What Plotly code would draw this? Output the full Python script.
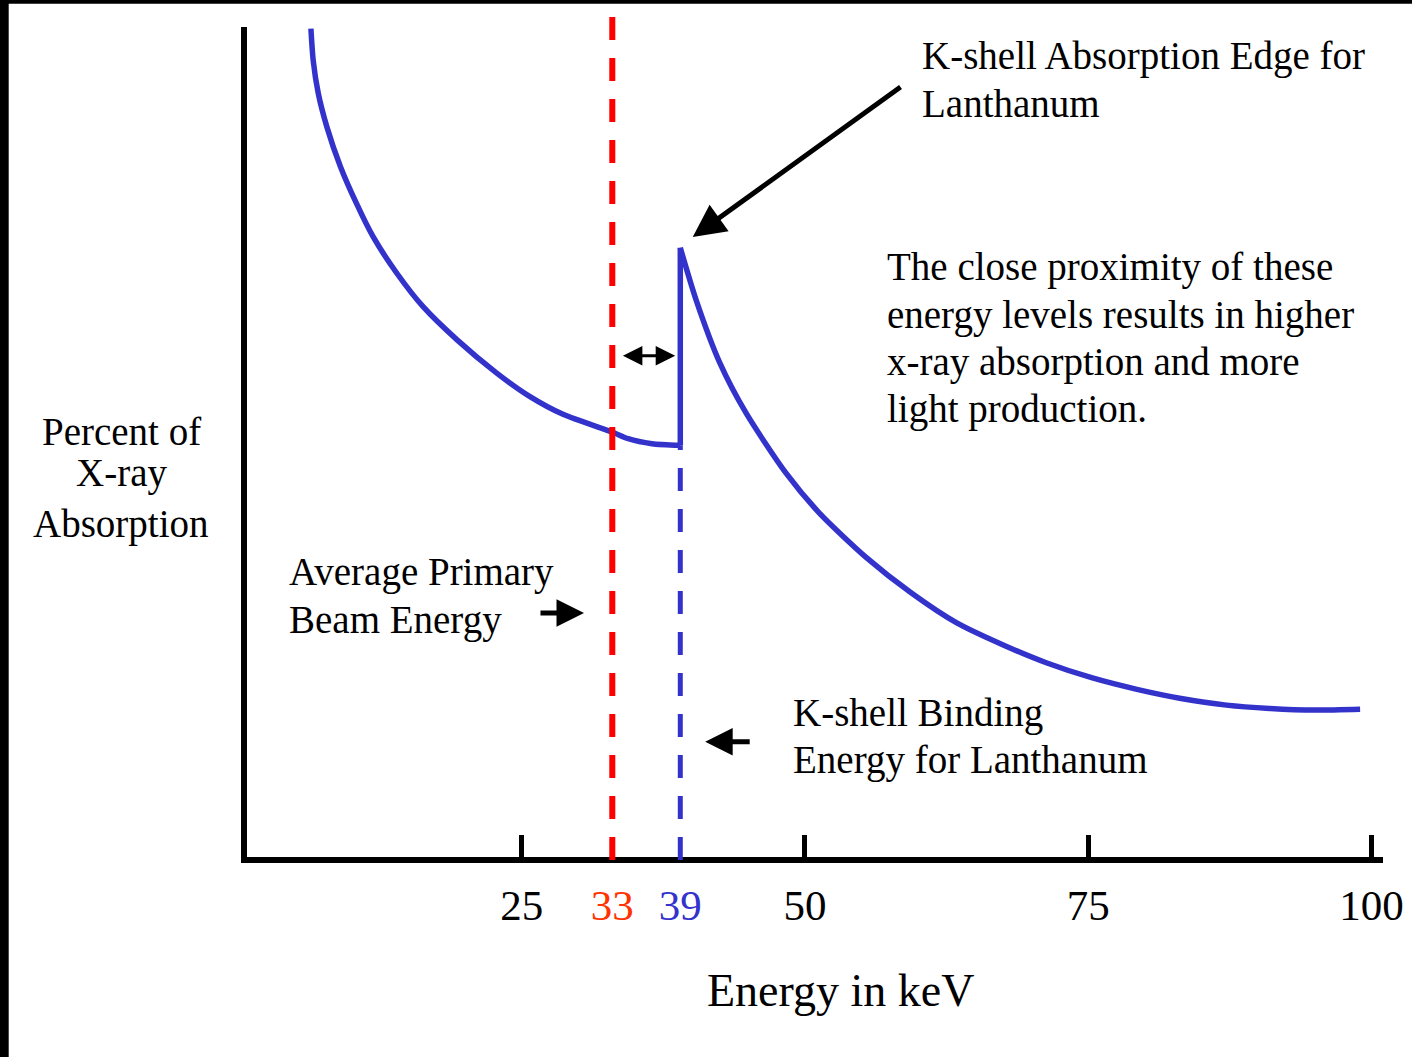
import plotly.graph_objects as go

# Absorption curve below the K-edge (keV, percent absorption)
below_edge_kev = [6.4, 6.6, 7.05, 7.8, 9.0, 10.4, 11.9, 14.0, 16.3, 19.3,
                  22.8, 25.7, 28.7, 33.0, 34.4, 36.5, 39.0]
below_edge_abs = [99.8, 96.0, 92.0, 88.0, 83.2, 78.8, 74.7, 70.3, 66.3, 62.3,
                  58.3, 55.5, 53.3, 51.2, 50.4, 49.8, 49.6]

# Absorption curve from the top of the K-edge upward
above_edge_kev = [39.0, 40.4, 42.5, 44.8, 48.3, 51.3, 55.4, 59.4, 63.4,
                  67.4, 71.3, 75.3, 79.3, 83.2, 87.2, 91.0, 95.0, 99.0]
above_edge_abs = [73.4, 67.1, 59.5, 53.5, 46.3, 41.4, 36.1, 31.8, 28.2,
                  25.6, 23.4, 21.6, 20.2, 19.1, 18.3, 17.9, 17.7, 17.8]

beam_energy = 33          # average primary beam energy, keV
k_binding = 39            # K-shell binding energy of lanthanum, keV

tick_values = [25, 33, 39, 50, 75, 100]
tick_colors = ["black", "#FF3300", "#3333CC", "black", "black", "black"]
major_ticks = [25, 50, 75, 100]

BLUE = "#3333CC"
RED = "#FF0000"
FONT = "Liberation Serif"

W, H = 1412, 1057
L, R, T, B = 247, 29, 27, 200
PW, PH = W - L - R, H - T - B


def px_x(p):
    return (p - L) / PW


def px_y(p):
    return (H - B - p) / PH


curve_style = dict(color=BLUE, width=5.5)

fig = go.Figure()
# lower branch, the jump at the edge, and the upper branch
fig.add_trace(go.Scatter(
    x=below_edge_kev, y=below_edge_abs, mode="lines",
    line=dict(shape="spline", smoothing=0.7, **curve_style),
    hoverinfo="skip", showlegend=False,
))
fig.add_trace(go.Scatter(
    x=[below_edge_kev[-1], above_edge_kev[0]],
    y=[below_edge_abs[-1], above_edge_abs[0]], mode="lines",
    line=curve_style, hoverinfo="skip", showlegend=False,
))
fig.add_trace(go.Scatter(
    x=above_edge_kev, y=above_edge_abs, mode="lines",
    line=dict(shape="spline", smoothing=0.7, **curve_style),
    hoverinfo="skip", showlegend=False,
))

dash = "23px,18px"
# beam energy marker (runs above the plot top)
fig.add_shape(type="line", xref="x", yref="paper",
              x0=beam_energy, x1=beam_energy, y0=px_y(860), y1=px_y(15),
              line=dict(color=RED, width=6, dash=dash))
# binding energy marker, from the axis up to the foot of the edge
fig.add_shape(type="line", xref="x", yref="paper",
              x0=k_binding, x1=k_binding, y0=px_y(860),
              y1=min(below_edge_abs) / 100.0,
              line=dict(color=BLUE, width=5, dash=dash))

# frame strips along the top and left of the slide
fig.add_shape(type="rect", xref="paper", yref="paper",
              x0=px_x(0), x1=px_x(8.7), y0=px_y(H), y1=px_y(0),
              line=dict(width=0), fillcolor="black", layer="above")
fig.add_shape(type="rect", xref="paper", yref="paper",
              x0=px_x(0), x1=px_x(W), y0=px_y(3.7), y1=px_y(0),
              line=dict(width=0), fillcolor="black", layer="above")

ticktext = [f'<span style="color:{c}">{v}</span>' for v, c in zip(tick_values, tick_colors)]

fig.update_xaxes(
    range=[0.759, 101.02], showline=True, linecolor="black", linewidth=6,
    showgrid=False, zeroline=False,
    tickmode="array", tickvals=tick_values, ticktext=ticktext, ticks="",
    tickfont=dict(family=FONT, size=43, color="black"),
    ticklabelstandoff=5,
    minor=dict(tickmode="array", tickvals=major_ticks, ticks="inside",
               ticklen=22, tickwidth=5, tickcolor="black", showgrid=False),
)
fig.update_yaxes(
    range=[0, 100], showline=True, linecolor="black", linewidth=6,
    showgrid=False, zeroline=False, showticklabels=False, ticks="",
)


def text_block(lines, x, ys, anchor="left", size=39):
    for line, y in zip(lines, ys):
        fig.add_annotation(text=line, xref="paper", yref="paper",
                           x=px_x(x), y=px_y(y), xanchor=anchor, yanchor="middle",
                           showarrow=False,
                           font=dict(family=FONT, size=size, color="black"))


text_block(["K-shell Absorption Edge for", "Lanthanum"], 920, [56, 104])
text_block(["The close proximity of these", "energy levels results in higher",
            "x-ray absorption and more", "light production."],
           885, [267, 315, 362, 409])
text_block(["Percent of", "X-ray", "Absorption"], 121, [431, 473, 524], anchor="center")
text_block(["Average Primary", "Beam Energy"], 287, [572, 620])
text_block(["K-shell Binding", "Energy for Lanthanum"], 791, [713, 760])
text_block(["Energy in keV"], 840, [990], anchor="center", size=46)

# arrow to the top of the absorption edge
fig.add_annotation(x=40.1, y=74.7, ax=58.57, ay=92.9, xref="x", yref="y",
                   axref="x", ayref="y", text="", showarrow=True,
                   arrowhead=2, arrowsize=1.3, arrowwidth=5, arrowcolor="black")
# gap between beam energy and binding energy
fig.add_annotation(x=k_binding - 0.45, y=60.4, ax=beam_energy + 0.8, ay=60.4,
                   xref="x", yref="y", axref="x", ayref="y", text="",
                   showarrow=True, arrowhead=2, arrowside="end+start",
                   arrowsize=1.3, arrowwidth=3, arrowcolor="black")
# label pointers
fig.add_annotation(x=beam_energy - 2.5, y=29.4, ax=-45, ay=0, xref="x", yref="y",
                   text="", showarrow=True, arrowhead=2, arrowsize=1.1,
                   arrowwidth=5, arrowcolor="black")
fig.add_annotation(x=k_binding + 2.2, y=13.9, ax=46, ay=0, xref="x", yref="y",
                   text="", showarrow=True, arrowhead=2, arrowsize=1.1,
                   arrowwidth=5, arrowcolor="black")

fig.update_layout(
    width=W, height=H,
    margin=dict(l=L, r=R, t=T, b=B, autoexpand=False),
    paper_bgcolor="white", plot_bgcolor="white",
    showlegend=False,
)

fig.write_html("out.html", config={"displayModeBar": False})
